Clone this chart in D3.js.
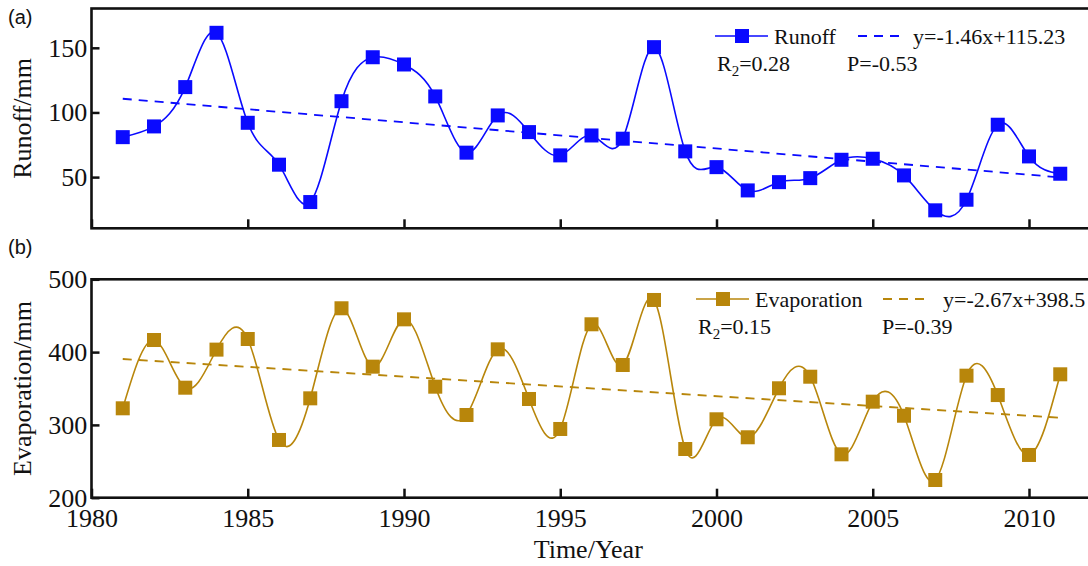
<!DOCTYPE html>
<html>
<head>
<meta charset="utf-8">
<script src="https://cdn.jsdelivr.net/npm/d3@7"></script>
<style>
  body { margin: 0; background: #fff; }
  svg { display: block; }
  text { font-family: "Liberation Serif", "Times New Roman", serif; fill: #111; }
</style>
</head>
<body>
<svg id="vis" width="1088" height="566"></svg>
<script>
// data
let years = d3.range(1981, 2012);
let runoff = [80.9, 89.2, 119.6, 161.6, 92, 59.6, 30.7, 108.7, 142.7, 137.1,
              112.4, 68.9, 97.7, 84.8, 66.8, 82.2, 79.7, 150.5, 69.9, 57.7,
              39.7, 46.1, 49.2, 63.4, 64.2, 51.3, 24.3, 32.5, 90.5, 66, 52.6];
let evaporation = [322.8, 416.6, 351.1, 403.4, 418, 279.3, 336.5, 460.2, 380, 445,
                   352.5, 313.6, 403.8, 335.6, 294.4, 438.2, 382.3, 471.6, 266.9, 307.7,
                   283, 350.3, 366.2, 259.6, 331.9, 312.6, 224.3, 367.6, 341, 258.7, 369.5];
// fitted trend lines as drawn (value at 1981 and 2011)
let runoffTrend = [[1981, 110.6], [2011, 49.8]];
let evapTrend = [[1981, 390.5], [2011, 309.9]];
let xTicks = [1980, 1985, 1990, 1995, 2000, 2005, 2010];
let runoffTicks = [50, 100, 150];
let evapTicks = [200, 300, 400, 500];

let svg = d3.select("#vis");
let x = d3.scaleLinear().domain([1980, 2012]).range([91.5, 1091.5]);

function panel(opts) {
  let y = d3.scaleLinear().domain(opts.domain).range(opts.range);
  let g = svg.append("g");
  let top = opts.range[1], bottom = opts.range[0];

  // trend line
  g.append("path")
    .attr("d", d3.line().x(d => x(d[0])).y(d => y(d[1]))(opts.trend))
    .attr("fill", "none")
    .attr("stroke", opts.color)
    .attr("stroke-width", 1.8)
    .attr("stroke-dasharray", "9,7");

  // spline through the points
  let pts = years.map((yr, i) => [yr, opts.values[i]]);
  g.append("path")
    .attr("d", d3.line().x(d => x(d[0])).y(d => y(d[1])).curve(d3.curveNatural)(pts))
    .attr("fill", "none")
    .attr("stroke", opts.color)
    .attr("stroke-width", 1.6);

  g.selectAll("rect.m")
    .data(pts)
    .enter()
    .append("rect")
    .attr("class", "m")
    .attr("x", d => x(d[0]) - 7)
    .attr("y", d => y(d[1]) - 7)
    .attr("width", 14)
    .attr("height", 14)
    .attr("fill", opts.color);

  // axes, ticks inward
  let xAxis = d3.axisBottom(x).tickValues(xTicks).tickSizeInner(-9).tickSizeOuter(0)
    .tickFormat(opts.showX ? d3.format("d") : "");
  let xg = g.append("g").attr("transform", `translate(0,${bottom})`).call(xAxis);
  let yAxis = d3.axisLeft(y).tickValues(opts.ticks).tickSizeInner(-8).tickSizeOuter(0);
  let yg = g.append("g").attr("transform", `translate(${x(1980)},0)`).call(yAxis);
  [xg, yg].forEach(a => {
    a.select(".domain").remove();
    a.selectAll("line").attr("stroke", "#111").attr("stroke-width", 2.5);
    a.selectAll("text").style("font-size", "26px").attr("font-family", "Liberation Serif").attr("fill", "#111");
  });
  xg.selectAll("text").attr("dy", "1.0em");
  yg.selectAll("text").attr("dx", "-0.05em");

  // frame
  g.append("rect")
    .attr("x", x(1980))
    .attr("y", top)
    .attr("width", x(2012) - x(1980))
    .attr("height", bottom - top)
    .attr("fill", "none")
    .attr("stroke", "#111")
    .attr("stroke-width", 2.6);

  // y title
  g.append("text")
    .attr("transform", `translate(${opts.titleX},${(top + bottom) / 2}) rotate(-90)`)
    .attr("text-anchor", "middle")
    .attr("dy", "0.35em")
    .style("font-size", "26px")
    .text(opts.title);

  // panel letter
  g.append("text")
    .attr("x", 8)
    .attr("y", opts.letterY)
    .style("font-family", "Liberation Sans, Arial, sans-serif")
    .style("font-size", "20px")
    .text(opts.letter);

  // legend
  let lg = g.append("g").attr("transform", `translate(${opts.legendX},${opts.legendY})`);
  lg.append("line").attr("x1", 0).attr("x2", 53).attr("y1", 0).attr("y2", 0)
    .attr("stroke", opts.color).attr("stroke-width", 1.6);
  lg.append("rect").attr("x", 20).attr("y", -7).attr("width", 14).attr("height", 14).attr("fill", opts.color);
  lg.append("text").attr("x", 59).attr("y", 7.5).style("font-size", "22px").text(opts.name);
  lg.append("line").attr("x1", opts.dashX).attr("x2", opts.dashX + 46).attr("y1", 0).attr("y2", 0)
    .attr("stroke", opts.color).attr("stroke-width", 1.8).attr("stroke-dasharray", "9,7");
  lg.append("text").attr("x", opts.eqX).attr("y", 7.5).style("font-size", "22px").text(opts.eq);
  let r = lg.append("text").attr("x", 2).attr("y", 35).style("font-size", "22px");
  r.append("tspan").text("R");
  r.append("tspan").attr("dy", 5).style("font-size", "15px").text("2");
  r.append("tspan").attr("dy", -5).text(opts.r2);
  lg.append("text").attr("x", opts.pX).attr("y", 35).style("font-size", "22px").text(opts.p);
  return y;
}

panel({
  domain: [10.4, 180.4], range: [228.3, 8.5],
  values: runoff, trend: runoffTrend, ticks: runoffTicks,
  color: "#0a0aff", title: "Runoff/mm", titleX: 22, letter: "(a)", letterY: 24,
  legendX: 715, legendY: 36, name: "Runoff", dashX: 143, eqX: 198, eq: "y=-1.46x+115.23",
  r2: "=0.28", pX: 132, p: "P=-0.53", showX: false
});

panel({
  domain: [200, 500], range: [497.7, 279.3],
  values: evaporation, trend: evapTrend, ticks: evapTicks,
  color: "#b8860b", title: "Evaporation/mm", titleX: 22, letter: "(b)", letterY: 254,
  legendX: 696, legendY: 299, name: "Evaporation", dashX: 187, eqX: 247, eq: "y=-2.67x+398.5",
  r2: "=0.15", pX: 186, p: "P=-0.39", showX: true
});

svg.append("text")
  .attr("x", x(1995) + 28)
  .attr("y", 558)
  .attr("text-anchor", "middle")
  .style("font-size", "26px")
  .text("Time/Year");
</script>
</body>
</html>
